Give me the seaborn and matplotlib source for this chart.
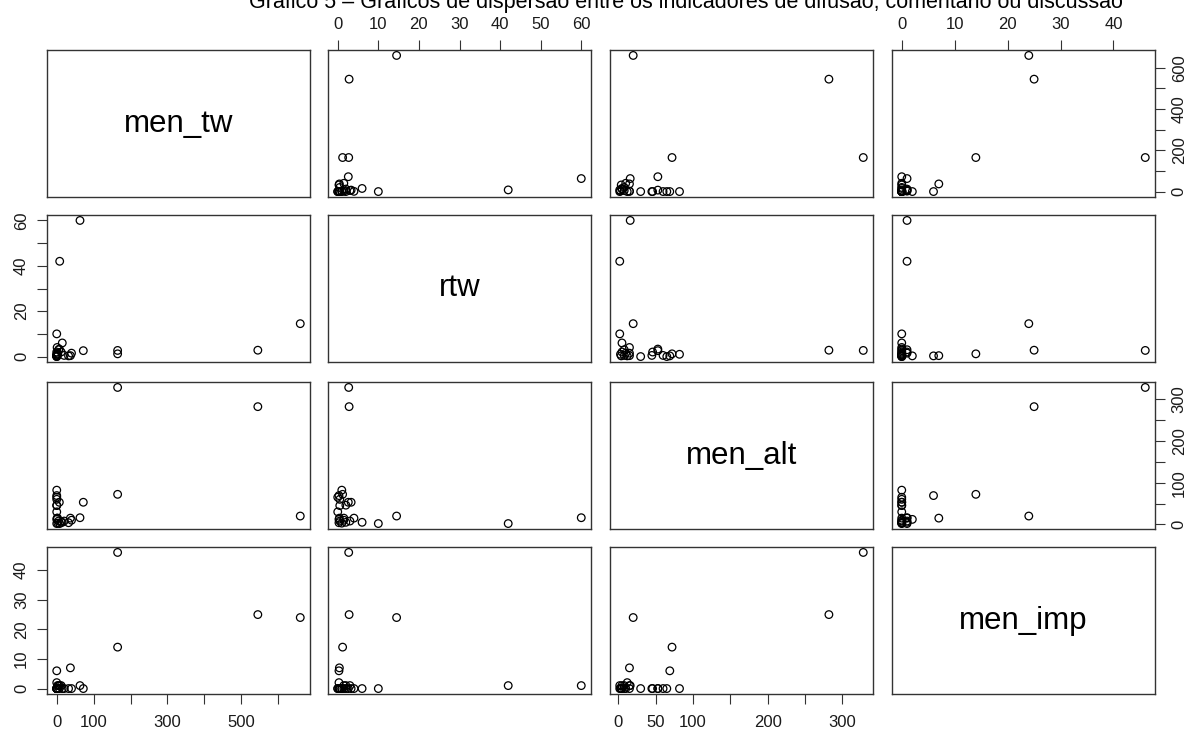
import numpy as np
import pandas as pd
import matplotlib
matplotlib.use("Agg")
import matplotlib.pyplot as plt
import seaborn as sns

# ---------------- data ----------------
variables = ["men_tw", "rtw", "men_alt", "men_imp"]
men_tw  = [660, 545, 165, 165, 63, 8, 0, 37, 72, 0, 15, 32, 0, 7, 0, 0, 0, 0, 0, 5, 3, 1, 12, 40, 20, 0, 2]
rtw     = [14.5, 2.8, 2.7, 1.2, 60, 42, 0.3, 0.4, 2.6, 10, 6, 0.3, 0.5, 3.3, 0, 1, 0.5, 2, 0.3, 3, 1, 4, 2, 1.5, 0.5, 0, 1.5]
men_alt = [20, 282, 328, 72, 16, 2, 69, 15, 53, 2, 5, 4, 45, 53, 65, 82, 60, 46, 12, 8, 3, 15, 5, 10, 8, 30, 15]
men_imp = [24, 25, 46, 14, 1, 1, 6, 7, 0, 0, 0, 0, 0, 0, 0, 0, 0, 0, 2, 1, 0, 0, 1, 0, 0, 0, 1]

title = "Gráfico 5 – Gráficos de dispersão entre os indicadores de difusão, comentário ou discussão"

tick_values = {
    "men_tw": [0, 100, 200, 300, 400, 500, 600],
    "rtw": [0, 10, 20, 30, 40, 50, 60],
    "men_alt": [0, 50, 100, 150, 200, 250, 300],
    "men_imp": [0, 10, 20, 30, 40],
}
# tick labels per (variable, side) as R's pairs() shows them
tick_labels = {
    ("men_tw", "bottom"): ["0", "100", "", "300", "", "500", ""],
    ("men_tw", "right"): ["0", "", "200", "", "400", "", "600"],
    ("rtw", "top"): ["0", "10", "20", "30", "40", "50", "60"],
    ("rtw", "left"): ["0", "", "20", "", "40", "", "60"],
    ("men_alt", "bottom"): ["0", "50", "100", "", "200", "", "300"],
    ("men_alt", "right"): ["0", "", "100", "", "200", "", "300"],
    ("men_imp", "top"): ["0", "10", "20", "30", "40"],
    ("men_imp", "left"): ["0", "10", "20", "30", "40"],
}

df = pd.DataFrame({"men_tw": men_tw, "rtw": rtw, "men_alt": men_alt, "men_imp": men_imp})

# ---------------- style ----------------
sns.set_style("white")
plt.rcParams["font.family"] = ["Liberation Sans", "DejaVu Sans"]

W, H = 1185, 729
fig = plt.figure(figsize=(W / 100, H / 100), dpi=100)

col_left = [47, 328, 610, 892]
row_top = [50, 215, 382, 547]
pw, ph = 263, 147

# R-like 4% expansion of each variable's range
limits = {}
for v in variables:
    lo, hi = df[v].min(), df[v].max()
    span = hi - lo
    limits[v] = (lo - 0.04 * span, hi + 0.04 * span)

line_col = "#333333"
text_col = "#1a1a1a"

for i, yv in enumerate(variables):
    for j, xv in enumerate(variables):
        ax = fig.add_axes([col_left[j] / W, 1 - (row_top[i] + ph) / H, pw / W, ph / H])
        ax.set_facecolor("white")
        for sp in ax.spines.values():
            sp.set_visible(True)
            sp.set_color(line_col)
            sp.set_linewidth(1.0)
        ax.set_xlim(*limits[xv])
        ax.set_ylim(*limits[yv])
        if i == j:
            ax.text(0.5, 0.5, xv, ha="center", va="center", fontsize=22.5,
                    color="black", transform=ax.transAxes)
        else:
            sns.scatterplot(data=df, x=xv, y=yv, ax=ax, marker="o", s=30,
                            facecolor="none", edgecolor="black", color="black",
                            linewidth=0.9, legend=False, zorder=3)
        ax.set_xlabel("")
        ax.set_ylabel("")
        ax.set_xticks([])
        ax.set_yticks([])
        ax.tick_params(direction="out", length=7, width=0.8, color=line_col,
                       labelsize=12, labelcolor=text_col, pad=7)

        # bottom axis (odd columns, last row)
        if i == 3 and j in (0, 2):
            ax.set_xticks(tick_values[xv])
            ax.set_xticklabels(tick_labels[(xv, "bottom")])
            ax.tick_params(axis="x", bottom=True, labelbottom=True, pad=8)
        # top axis (even columns, first row)
        if i == 0 and j in (1, 3):
            ax.xaxis.tick_top()
            ax.set_xticks(tick_values[xv])
            ax.set_xticklabels(tick_labels[(xv, "top")])
            ax.tick_params(axis="x", top=True, labeltop=True, bottom=False,
                           labelbottom=False, pad=6)
        # left axis (even rows, first column)
        if j == 0 and i in (1, 3):
            ax.set_yticks(tick_values[yv])
            ax.set_yticklabels(tick_labels[(yv, "left")])
            ax.tick_params(axis="y", left=True, labelleft=True, labelrotation=90, pad=6)
            for lb in ax.get_yticklabels():
                lb.set_va("center")
        # right axis (odd rows, last column)
        if j == 3 and i in (0, 2):
            ax.yaxis.tick_right()
            ax.set_yticks(tick_values[yv])
            ax.set_yticklabels(tick_labels[(yv, "right")])
            ax.tick_params(axis="y", right=True, labelright=True, left=False,
                           labelleft=False, labelrotation=90, pad=5)
            for lb in ax.get_yticklabels():
                lb.set_va("center")

fig.text(686 / W, 1 - 8 / H, title, ha="center", va="baseline", fontsize=15.5, color="black")

fig.savefig("out.png", dpi=100, facecolor="white")
